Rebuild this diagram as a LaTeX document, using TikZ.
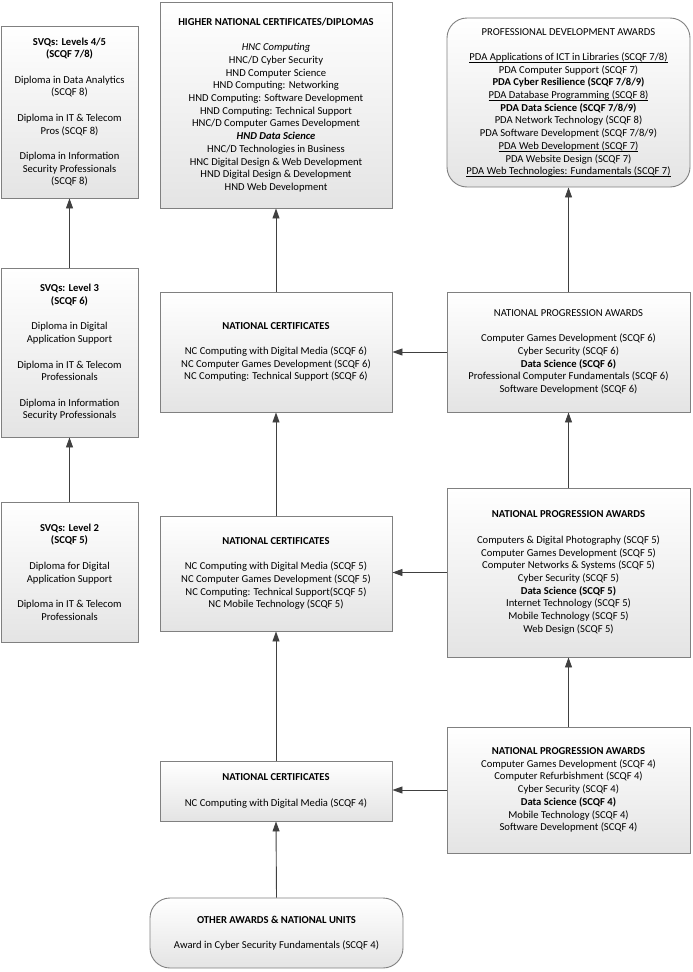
\documentclass[tikz,border=0pt]{standalone}
\usepackage{fontspec}
\setmainfont{Carlito}
\usetikzlibrary{arrows.meta}
\definecolor{boxline}{HTML}{808080}
\definecolor{arrline}{HTML}{404040}
\definecolor{shadebot}{HTML}{E4E4E4}
\tikzset{
  box/.style={draw=boxline, line width=0.9pt, top color=white, bottom color=shadebot,
    inner sep=0pt, align=center, font=\fontsize{10.6}{12.7}\selectfont},
  roundbox/.style={box, rounded corners=20pt},
  arr/.style={draw=arrline, line width=0.9pt, -{Triangle[length=10pt,width=7pt]}},
}
\newcommand{\bl}{\\[12.7pt]}
\newcommand{\ulin}[1]{\underline{\smash{#1}}}
\begin{document}
\begin{tikzpicture}[x=1pt,y=-1pt]
\useasboundingbox (0,0) rectangle (693,972);

\node[box, minimum width=137pt, minimum height=172pt] (svq45) at (69.5,112)
  {\textbf{SVQs: Levels 4/5}\\\textbf{(SCQF 7/8)}\bl
   Diploma in Data Analytics\\(SCQF 8)\bl
   Diploma in IT \& Telecom\\Pros (SCQF 8)\bl
   Diploma in Information\\Security Professionals\\(SCQF 8)};

\node[box, minimum width=232pt, minimum height=206pt] (hnc) at (276,105)
  {\textbf{HIGHER NATIONAL CERTIFICATES/DIPLOMAS}\bl
   \textit{HNC Computing}\\
   HNC/D Cyber Security\\
   HND Computer Science\\
   HND Computing: Networking\\
   HND Computing: Software Development\\
   HND Computing: Technical Support\\
   HNC/D Computer Games Development\\
   \textbf{\textit{HND Data Science}}\\
   HNC/D Technologies in Business\\
   HNC Digital Design \& Web Development\\
   HND Digital Design \& Development\\
   HND Web Development};

\node[roundbox, minimum width=243pt, minimum height=169pt] (pda) at (568.5,102.5)
  {PROFESSIONAL DEVELOPMENT AWARDS\bl
   \ulin{PDA Applications of ICT in Libraries (SCQF 7/8)}\\
   PDA Computer Support (SCQF 7)\\
   \textbf{PDA Cyber Resilience (SCQF 7/8/9)}\\
   \ulin{PDA Database Programming (SCQF 8)}\\
   \textbf{PDA Data Science (SCQF 7/8/9)}\\
   PDA Network Technology (SCQF 8)\\
   PDA Software Development (SCQF 7/8/9)\\
   \ulin{PDA Web Development (SCQF 7)}\\
   PDA Website Design (SCQF 7)\\
   \ulin{PDA Web Technologies: Fundamentals (SCQF 7)}};

\node[box, minimum width=137pt, minimum height=169pt] (svq3) at (69.5,352.5)
  {\textbf{SVQs: Level 3}\\\textbf{(SCQF 6)}\bl
   Diploma in Digital\\Application Support\bl
   Diploma in IT \& Telecom\\Professionals\bl
   Diploma in Information\\Security Professionals};

\node[box, minimum width=232pt, minimum height=120pt] (nc6) at (276,352)
  {\textbf{NATIONAL CERTIFICATES}\bl
   NC Computing with Digital Media (SCQF 6)\\
   NC Computer Games Development (SCQF 6)\\
   NC Computing: Technical Support (SCQF 6)};

\node[box, minimum width=243pt, minimum height=120pt] (npa6) at (568.5,352)
  {NATIONAL PROGRESSION AWARDS\bl
   Computer Games Development (SCQF 6)\\
   Cyber Security (SCQF 6)\\
   \textbf{Data Science (SCQF 6)}\\
   Professional Computer Fundamentals (SCQF 6)\\
   Software Development (SCQF 6)};

\node[box, minimum width=137pt, minimum height=140pt] (svq2) at (69.5,572)
  {\textbf{SVQs: Level 2}\\\textbf{(SCQF 5)}\bl
   Diploma for Digital\\Application Support\bl
   Diploma in IT \& Telecom\\Professionals};

\node[box, minimum width=232pt, minimum height=115pt] (nc5) at (276,573.5)
  {\textbf{NATIONAL CERTIFICATES}\bl
   NC Computing with Digital Media (SCQF 5)\\
   NC Computer Games Development (SCQF 5)\\
   NC Computing: Technical Support(SCQF 5)\\
   NC Mobile Technology (SCQF 5)};

\node[box, minimum width=243pt, minimum height=169pt] (npa5) at (568.5,572.5)
  {\textbf{NATIONAL PROGRESSION AWARDS}\bl
   Computers \& Digital Photography (SCQF 5)\\
   Computer Games Development (SCQF 5)\\
   Computer Networks \& Systems (SCQF 5)\\
   Cyber Security (SCQF 5)\\
   \textbf{Data Science (SCQF 5)}\\
   Internet Technology (SCQF 5)\\
   Mobile Technology (SCQF 5)\\
   Web Design (SCQF 5)};

\node[box, minimum width=232pt, minimum height=60pt] (nc4) at (276,791)
  {\textbf{NATIONAL CERTIFICATES}\bl
   NC Computing with Digital Media (SCQF 4)};

\node[box, minimum width=243pt, minimum height=126pt] (npa4) at (568.5,790)
  {\textbf{NATIONAL PROGRESSION AWARDS}\\
   Computer Games Development (SCQF 4)\\
   Computer Refurbishment (SCQF 4)\\
   Cyber Security (SCQF 4)\\
   \textbf{Data Science (SCQF 4)}\\
   Mobile Technology (SCQF 4)\\
   Software Development (SCQF 4)};

\node[roundbox, minimum width=253pt, minimum height=70pt] (other) at (276.5,933)
  {\textbf{OTHER AWARDS \& NATIONAL UNITS}\bl
   Award in Cyber Security Fundamentals (SCQF 4)};

% vertical arrows
\draw[arr] (svq3.north) -- (svq45.south);
\draw[arr] (svq2.north) -- (svq3.south);
\draw[arr] (nc6.north) -- (hnc.south);
\draw[arr] (nc5.north) -- (nc6.south);
\draw[arr] (nc4.north) -- (nc5.south);
\draw[arr] (other.north) -- (nc4.south);
\draw[arr] (npa6.north) -- (pda.south);
\draw[arr] (npa5.north) -- (npa6.south);
\draw[arr] (npa4.north) -- (npa5.south);
% horizontal arrows
\draw[arr] (npa6.west) -- (npa6.west -| nc6.east);
\draw[arr] (npa5.west) -- (npa5.west -| nc5.east);
\draw[arr] (npa4.west) -- (npa4.west -| nc4.east);
\end{tikzpicture}
\end{document}
